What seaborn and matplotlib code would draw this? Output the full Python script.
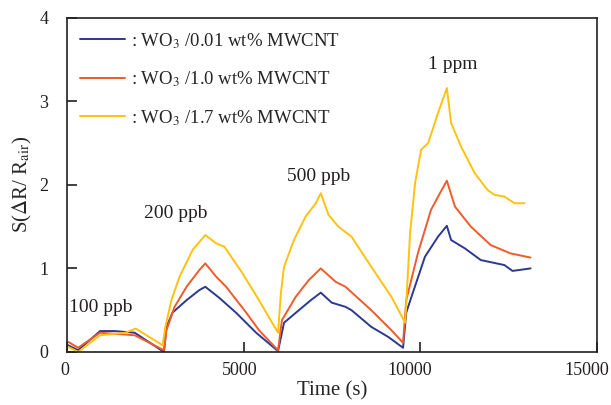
import numpy as np
import pandas as pd
import matplotlib
matplotlib.use("Agg")
import matplotlib.pyplot as plt
from matplotlib.transforms import ScaledTranslation
import seaborn as sns

# 读取自图片的数据点 (时间 s, 响应 S)
t_001 = [30, 310, 930, 1350, 1910, 2740, 2810, 2980, 3380, 3740, 3910, 4300, 4780, 5350, 5970,
         6140, 6560, 6900, 7180, 7490, 7880, 8050, 8610, 9090, 9510, 9600, 9740, 10130, 10500,
         10750, 10870, 11260, 11710, 12380, 12610, 13120]
s_001 = [0.08, 0.02, 0.25, 0.25, 0.23, 0.0, 0.30, 0.47, 0.62, 0.74, 0.78, 0.65, 0.47, 0.23, 0.01,
         0.35, 0.50, 0.62, 0.71, 0.59, 0.54, 0.50, 0.30, 0.18, 0.05, 0.47, 0.65, 1.14, 1.38,
         1.51, 1.34, 1.24, 1.10, 1.04, 0.97, 1.00]

t_10 = [30, 310, 930, 1910, 2740, 2810, 3040, 3380, 3740, 3910, 4220, 4500, 5070, 5430, 5970,
        6080, 6470, 6840, 7180, 7600, 7880, 8610, 9180, 9510, 9600, 9935, 10300, 10580, 10750,
        10980, 11430, 11990, 12550, 13120]
s_10 = [0.12, 0.05, 0.23, 0.20, 0.02, 0.26, 0.54, 0.78, 0.98, 1.06, 0.90, 0.78, 0.47, 0.26, 0.02,
        0.38, 0.66, 0.86, 1.00, 0.84, 0.78, 0.50, 0.26, 0.11, 0.62, 1.19, 1.70, 1.92, 2.05,
        1.74, 1.50, 1.28, 1.18, 1.13]

t_17 = [30, 310, 930, 1650, 1940, 2700, 2780, 2950, 3180, 3550, 3910, 4220, 4450, 4950, 5430,
        5970, 6050, 6140, 6420, 6750, 7040, 7180, 7400, 7680, 8050, 8610, 9180, 9570, 9710,
        9850, 10020, 10220, 10500, 10750, 10870, 11150, 11540, 11900, 12100, 12380, 12670, 12950]
s_17 = [0.06, 0.0, 0.20, 0.23, 0.28, 0.08, 0.30, 0.62, 0.90, 1.22, 1.40, 1.30, 1.26, 0.95, 0.62,
        0.23, 0.70, 1.02, 1.34, 1.62, 1.78, 1.90, 1.64, 1.50, 1.38, 1.02, 0.66, 0.35, 1.43,
        2.02, 2.42, 2.50, 2.86, 3.16, 2.74, 2.46, 2.14, 1.94, 1.88, 1.86, 1.78, 1.78]

labels = [": WO$_3$ /0.01 wt% MWCNT", ": WO$_3$ /1.0 wt% MWCNT", ": WO$_3$ /1.7 wt% MWCNT"]
colors = ["#2b3990", "#f15a29", "#ffc20e"]

conc_text = ["100 ppb", "200 ppb", "500 ppb", "1 ppm"]
conc_t = [960, 3070, 7120, 10920]
conc_s = [0.53, 1.66, 2.10, 3.44]

x_ticks = [0, 5000, 10000, 15000]
y_ticks = [0, 1, 2, 3, 4]

frames = []
for t, s, lab in zip([t_001, t_10, t_17], [s_001, s_10, s_17], labels):
    frames.append(pd.DataFrame({"time": t, "S": s, "sample": lab}))
df = pd.concat(frames, ignore_index=True)

sns.set_style("ticks")
plt.rcParams["font.family"] = ["Liberation Serif", "DejaVu Serif"]
plt.rcParams["mathtext.fontset"] = "stix"

fig = plt.figure(figsize=(6.11, 4.05), dpi=100)
ax = fig.add_axes([0.11, 0.131, 0.867, 0.825])

sns.lineplot(data=df, x="time", y="S", hue="sample", palette=colors, sort=False,
             linewidth=1.4, ax=ax, estimator=None)

for txt, x, y in zip(conc_text, conc_t, conc_s):
    ax.text(x, y, txt, ha="center", va="center", fontsize=14, color="#231f20")

ax.set_xlim(0, 15000)
ax.set_ylim(0, 4)
ax.set_xticks(x_ticks)
ax.set_yticks(y_ticks)
ax.tick_params(direction="in", length=7, width=1.2, labelsize=13, colors="#231f20")
for sp in ax.spines.values():
    sp.set_linewidth(1.2)
    sp.set_color("#231f20")
ax.set_xlabel("Time (s)", fontsize=15, labelpad=2)
ax.set_ylabel("S($\\Delta$R/ R$_{\\mathrm{air}}$)", fontsize=15, labelpad=4)

leg = ax.legend(loc="upper left", frameon=False, handlelength=2.4, handletextpad=0.3,
                labelspacing=1.0, fontsize=13.5, borderaxespad=0.3)
for line in leg.get_lines():
    line.set_linewidth(1.4)

# 刻度标签位置微调 (原图标签离轴较远, 且横轴标签略向左偏)
for lab, dx in zip(ax.get_xticklabels(), [-2, -4, -11, -10]):
    lab.set_transform(lab.get_transform() + ScaledTranslation(dx / 100, -5 / 100, fig.dpi_scale_trans))
for lab in ax.get_yticklabels():
    lab.set_transform(lab.get_transform() + ScaledTranslation(-14 / 100, 0, fig.dpi_scale_trans))

fig.savefig("out.png", dpi=100)
